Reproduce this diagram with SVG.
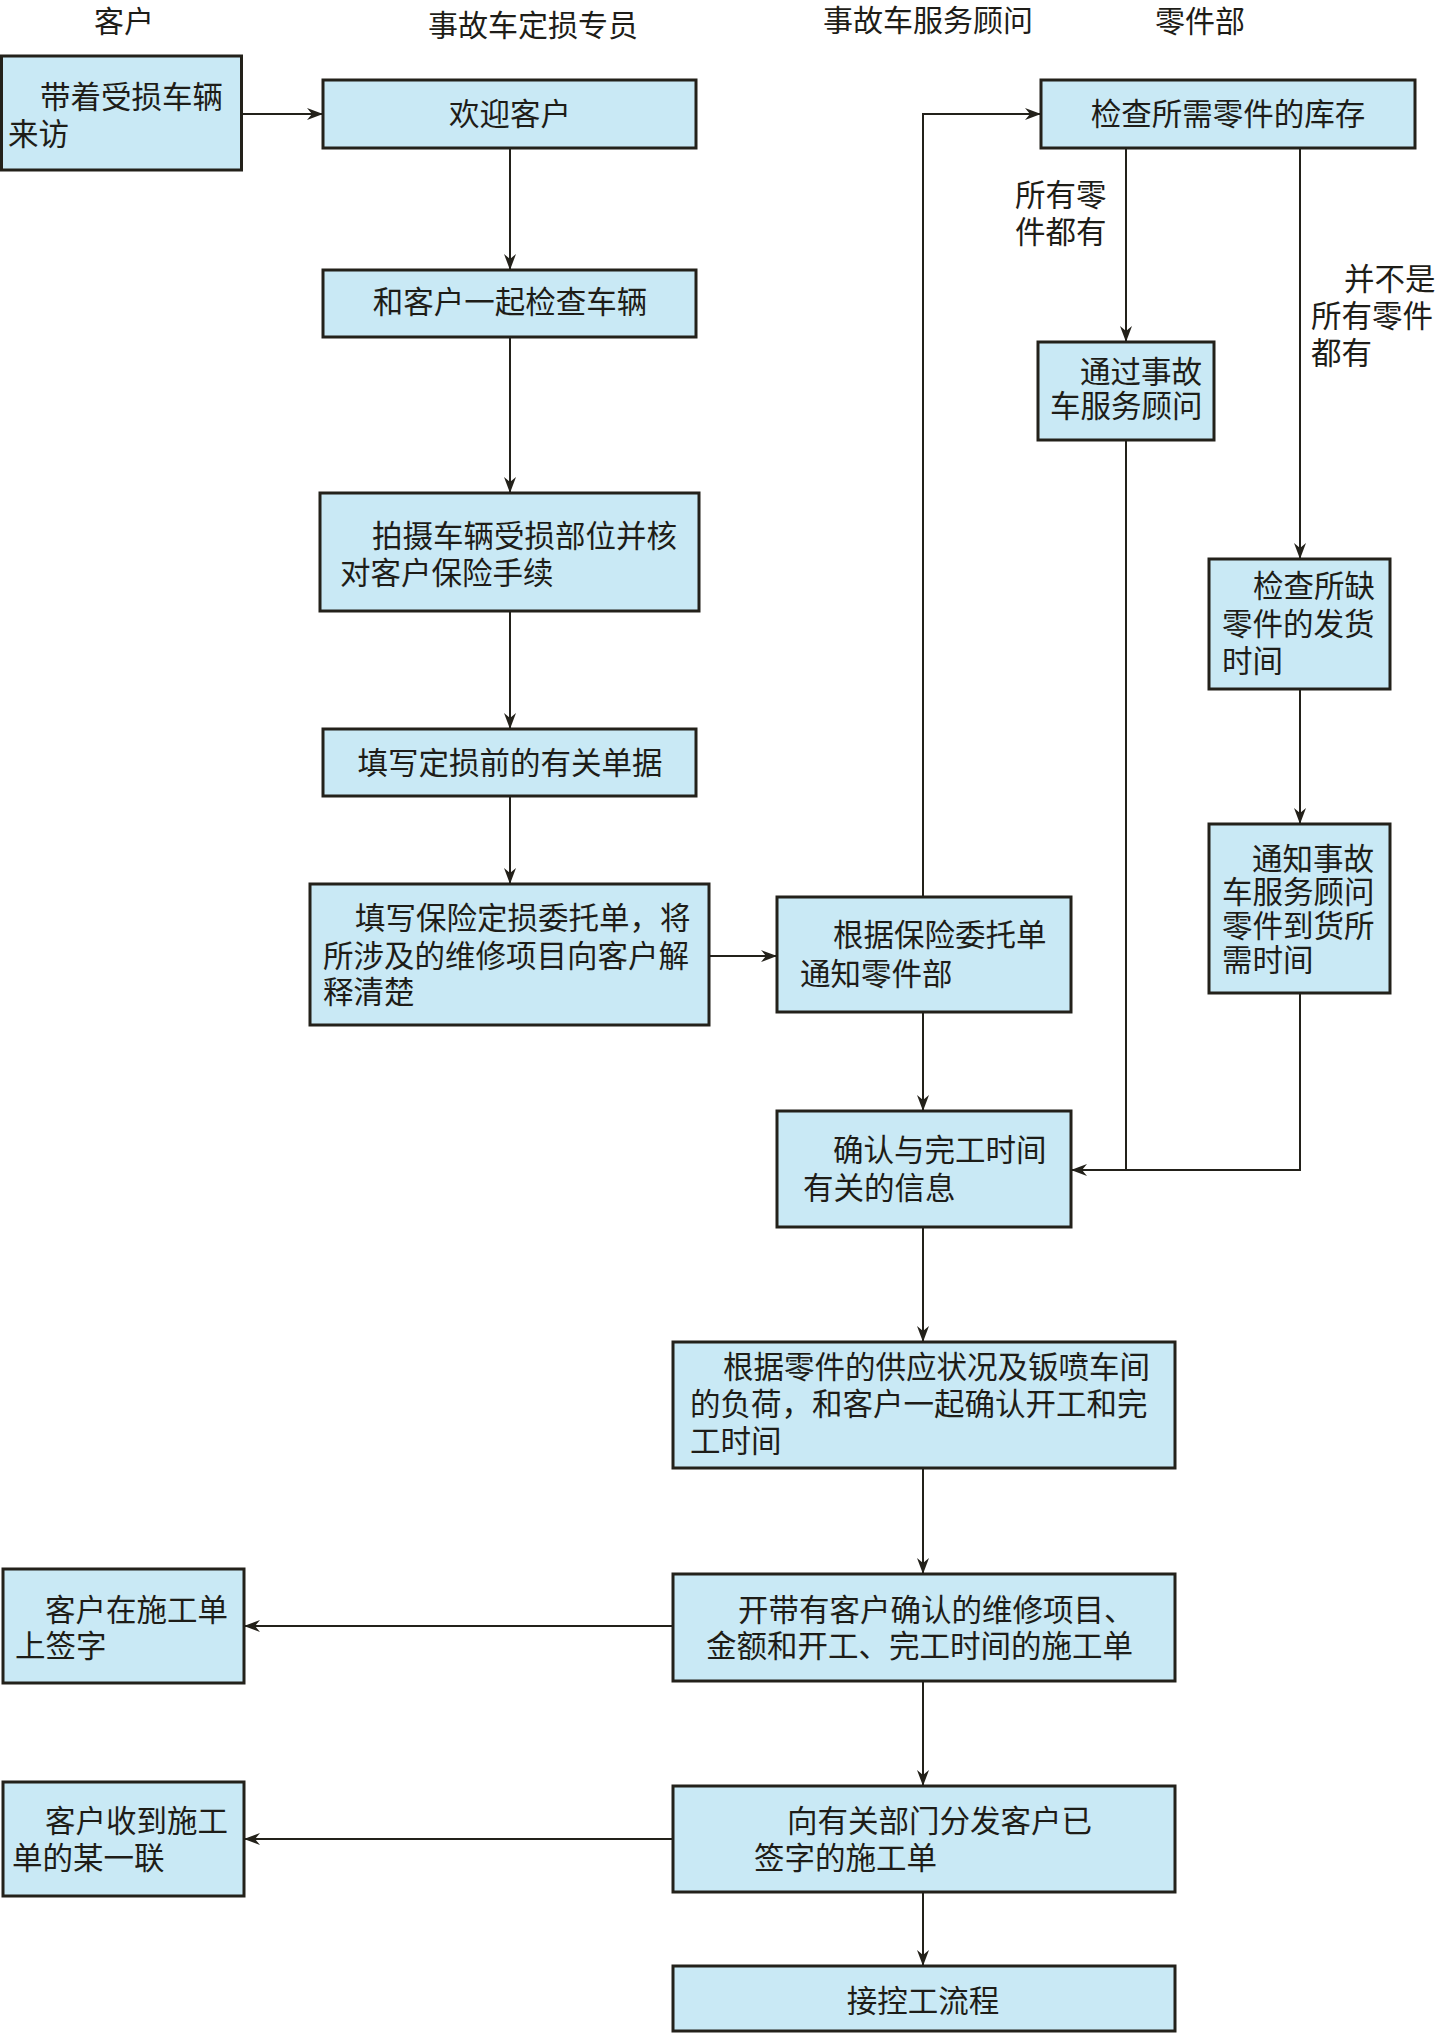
<svg xmlns="http://www.w3.org/2000/svg" width="1437" height="2033" viewBox="0 0 1437 2033">
<defs>
<style>
.box{fill:#c9e9f5;stroke:#23211a;stroke-width:3}
.t{font-family:"Liberation Sans","Noto Sans CJK SC",sans-serif;font-size:30.5px;fill:#1e1d18}
.h{font-family:"Liberation Sans","Noto Sans CJK SC",sans-serif;font-size:30px;fill:#1e1d18;text-anchor:middle}
.c{text-anchor:middle}
.ln{fill:none;stroke:#23211a;stroke-width:2}
</style>
<marker id="arr" viewBox="0 0 16 12" refX="16" refY="6" markerWidth="16" markerHeight="12" markerUnits="userSpaceOnUse" orient="auto">
<path d="M0,0 L16,6 L0,12 L5,6 Z" fill="#23211a"/>
</marker>
</defs>
<rect width="1437" height="2033" fill="#ffffff"/>
<g id="headers">
<text class="h" x="124" y="32">客户</text>
<text class="h" x="533" y="36">事故车定损专员</text>
<text class="h" x="928" y="31">事故车服务顾问</text>
<text class="h" x="1200" y="32">零件部</text>
</g>
<g id="connectors">
<path class="ln" d="M241,114 H323" marker-end="url(#arr)"/>
<path class="ln" d="M510,148 V270" marker-end="url(#arr)"/>
<path class="ln" d="M510,337 V493" marker-end="url(#arr)"/>
<path class="ln" d="M510,611 V729" marker-end="url(#arr)"/>
<path class="ln" d="M510,796 V884" marker-end="url(#arr)"/>
<path class="ln" d="M709,956 H777" marker-end="url(#arr)"/>
<path class="ln" d="M923,897 V114 H1041" marker-end="url(#arr)"/>
<path class="ln" d="M1126,148 V342" marker-end="url(#arr)"/>
<path class="ln" d="M1300,148 V559" marker-end="url(#arr)"/>
<path class="ln" d="M1300,689 V824" marker-end="url(#arr)"/>
<path class="ln" d="M1300,993 V1170 H1071" marker-end="url(#arr)"/>
<path class="ln" d="M1126,440 V1170"/>
<path class="ln" d="M923,1012 V1111" marker-end="url(#arr)"/>
<path class="ln" d="M923,1227 V1342" marker-end="url(#arr)"/>
<path class="ln" d="M923,1468 V1574" marker-end="url(#arr)"/>
<path class="ln" d="M673,1626 H244" marker-end="url(#arr)"/>
<path class="ln" d="M923,1681 V1786" marker-end="url(#arr)"/>
<path class="ln" d="M673,1839 H244" marker-end="url(#arr)"/>
<path class="ln" d="M923,1892 V1966" marker-end="url(#arr)"/>
<text class="t"><tspan x="1015" y="206">所有零</tspan><tspan x="1015" y="243">件都有</tspan></text>
<text class="t"><tspan x="1344" y="290">并不是</tspan><tspan x="1311" y="327">所有零件</tspan><tspan x="1311" y="364">都有</tspan></text>
</g>
<g id="n1"><rect class="box" x="1.5" y="56" width="240" height="114"/>
<text class="t"><tspan x="40" y="108">带着受损车辆</tspan><tspan x="8" y="145">来访</tspan></text></g>
<g id="n2"><rect class="box" x="323" y="80" width="373" height="68"/>
<text class="t c" x="510" y="125">欢迎客户</text></g>
<g id="n3"><rect class="box" x="323" y="270" width="373" height="67"/>
<text class="t c" x="510" y="313">和客户一起检查车辆</text></g>
<g id="n4"><rect class="box" x="320" y="493" width="379" height="118"/>
<text class="t"><tspan x="372" y="547">拍摄车辆受损部位并核</tspan><tspan x="340" y="584">对客户保险手续</tspan></text></g>
<g id="n5"><rect class="box" x="323" y="729" width="373" height="67"/>
<text class="t c" x="510" y="774">填写定损前的有关单据</text></g>
<g id="n6"><rect class="box" x="310" y="884" width="399" height="141"/>
<text class="t"><tspan x="355" y="929">填写保险定损委托单，将</tspan><tspan x="323" y="967">所涉及的维修项目向客户解</tspan><tspan x="323" y="1003">释清楚</tspan></text></g>
<g id="n7"><rect class="box" x="777" y="897" width="294" height="115"/>
<text class="t"><tspan x="833" y="946">根据保险委托单</tspan><tspan x="800" y="985">通知零件部</tspan></text></g>
<g id="n8"><rect class="box" x="1041" y="80" width="374" height="68"/>
<text class="t c" x="1228" y="125">检查所需零件的库存</text></g>
<g id="n9"><rect class="box" x="1038" y="342" width="176" height="98"/>
<text class="t"><tspan x="1080" y="383">通过事故</tspan><tspan x="1050" y="417">车服务顾问</tspan></text></g>
<g id="n10"><rect class="box" x="1209" y="559" width="181" height="130"/>
<text class="t"><tspan x="1253" y="597">检查所缺</tspan><tspan x="1222" y="635">零件的发货</tspan><tspan x="1222" y="672">时间</tspan></text></g>
<g id="n11"><rect class="box" x="1209" y="824" width="181" height="169"/>
<text class="t"><tspan x="1252" y="870">通知事故</tspan><tspan x="1222" y="903">车服务顾问</tspan><tspan x="1222" y="937">零件到货所</tspan><tspan x="1222" y="971">需时间</tspan></text></g>
<g id="n12"><rect class="box" x="777" y="1111" width="294" height="116"/>
<text class="t"><tspan x="833" y="1161">确认与完工时间</tspan><tspan x="803" y="1199">有关的信息</tspan></text></g>
<g id="n13"><rect class="box" x="673" y="1342" width="502" height="126"/>
<text class="t"><tspan x="723" y="1378">根据零件的供应状况及钣喷车间</tspan><tspan x="690" y="1415">的负荷，和客户一起确认开工和完</tspan><tspan x="690" y="1452">工时间</tspan></text></g>
<g id="n14"><rect class="box" x="673" y="1574" width="502" height="107"/>
<text class="t"><tspan x="738" y="1621">开带有客户确认的维修项目、</tspan><tspan x="706" y="1657">金额和开工、完工时间的施工单</tspan></text></g>
<g id="n15"><rect class="box" x="3" y="1569" width="241" height="114"/>
<text class="t"><tspan x="45" y="1621">客户在施工单</tspan><tspan x="15" y="1657">上签字</tspan></text></g>
<g id="n16"><rect class="box" x="673" y="1786" width="502" height="106"/>
<text class="t"><tspan x="787" y="1832">向有关部门分发客户已</tspan><tspan x="754" y="1869">签字的施工单</tspan></text></g>
<g id="n17"><rect class="box" x="3" y="1782" width="241" height="114"/>
<text class="t"><tspan x="45" y="1832">客户收到施工</tspan><tspan x="12" y="1869">单的某一联</tspan></text></g>
<g id="n18"><rect class="box" x="673" y="1966" width="502" height="65"/>
<text class="t c" x="923" y="2012">接控工流程</text></g>
</svg>
